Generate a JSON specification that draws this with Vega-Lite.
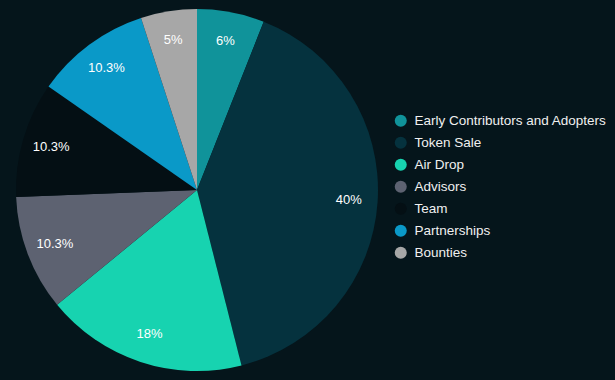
{
  "$schema": "https://vega.github.io/schema/vega-lite/v6.json",
  "width": 394,
  "height": 380,
  "padding": {"left": 0, "top": 0, "right": 37, "bottom": 0},
  "background": "#05151b",
  "config": {"view": {"stroke": null}, "font": "Liberation Sans"},
  "data": {
    "values": [
      {"category": "Early Contributors and Adopters", "value": 6, "label": "6%", "ord": 1},
      {"category": "Token Sale", "value": 40, "label": "40%", "ord": 2},
      {"category": "Air Drop", "value": 18, "label": "18%", "ord": 3},
      {"category": "Advisors", "value": 10.3, "label": "10.3%", "ord": 4},
      {"category": "Team", "value": 10.3, "label": "10.3%", "ord": 5},
      {"category": "Partnerships", "value": 10.3, "label": "10.3%", "ord": 6},
      {"category": "Bounties", "value": 5, "label": "5%", "ord": 7}
    ]
  },
  "encoding": {
    "theta": {"field": "value", "type": "quantitative", "stack": true},
    "order": {"field": "ord", "type": "quantitative"}
  },
  "layer": [
    {
      "mark": {"type": "arc", "outerRadius": 181},
      "encoding": {
        "color": {
          "field": "category",
          "type": "nominal",
          "sort": ["Early Contributors and Adopters", "Token Sale", "Air Drop", "Advisors", "Team", "Partnerships", "Bounties"],
          "scale": {
            "domain": ["Early Contributors and Adopters", "Token Sale", "Air Drop", "Advisors", "Team", "Partnerships", "Bounties"],
            "range": ["#10939a", "#05323e", "#17d3b0", "#5d6271", "#040f14", "#0a99c8", "#a7a7a7"]
          },
          "legend": {
            "title": null,
            "orient": "none",
            "legendX": 394,
            "legendY": 114,
            "padding": 0,
            "symbolType": "circle",
            "symbolSize": 144,
            "symbolStrokeWidth": 0,
            "labelColor": "#f0f0f0",
            "labelFontSize": 13.5,
            "labelFont": "Liberation Sans",
            "labelLimit": 300,
            "labelOffset": 7,
            "rowPadding": 7
          }
        }
      }
    },
    {
      "mark": {"type": "text", "radius": 152, "fontSize": 13, "font": "Liberation Sans"},
      "encoding": {
        "text": {"field": "label", "type": "nominal"},
        "color": {"value": "#ffffff"}
      }
    }
  ]
}
